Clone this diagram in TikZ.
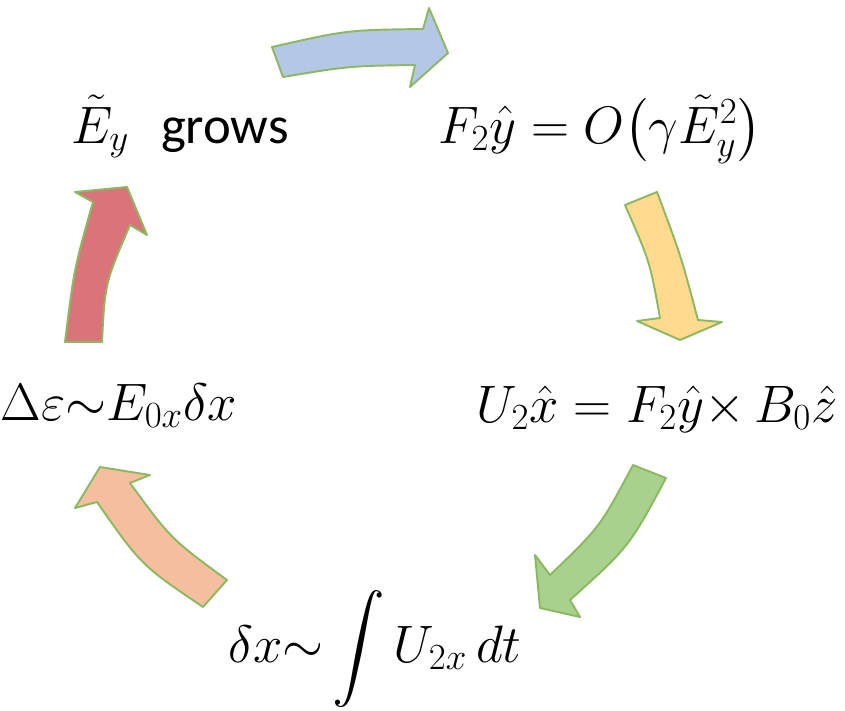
\documentclass[tikz,border=0pt]{standalone}
\usepackage{fix-cm}
\usepackage{amsmath}
\usepackage{amssymb}
\usepackage{fontspec}
\newfontfamily\growsfont{Carlito}
\usepackage{tikz}

\definecolor{rimgreen}{RGB}{140,184,96}
\definecolor{fillblue}{RGB}{180,199,231}
\definecolor{fillyellow}{RGB}{255,218,143}
\definecolor{fillgreen}{RGB}{169,209,142}
\definecolor{fillpeach}{RGB}{245,190,158}
\definecolor{fillred}{RGB}{218,116,122}

\tikzset{
    cyclearrow/.style={draw=rimgreen, line width=1.1pt, line join=round},
    eqlabel/.style={font={\fontsize{30}{36}\selectfont}, inner sep=0pt, anchor=base}
}

\begin{document}
\begin{tikzpicture}[x=0.02cm, y=-0.02cm]
\useasboundingbox (0,0) rectangle (845,710);

% Labels round the loop
\node[eqlabel] (grow) at (180,143) {$\tilde{E}_y$\ \ {\growsfont grows}};
\node[eqlabel] (force) at (600,143) {$F_2\hat{y}=O\bigl(\gamma\tilde{E}_y^2\bigr)$};
\node[eqlabel] (drift) at (657,422) {$U_2\hat{x}=F_2\hat{y}{\times}\,B_0\hat{z}$};
\node[eqlabel] (shift) at (375,662) {$\delta x{\sim}\displaystyle\int U_{2x}\,dt$};
\node[eqlabel] (energy) at (119,420) {$\Delta\varepsilon{\sim}E_{0x}\delta x$};

% Blue arrow
\filldraw[cyclearrow, fill=fillblue] (272,47) .. controls (347,30) .. (423,29)
    -- (429,8) -- (448,53) -- (410,87) -- (415,65)
    .. controls (349,66) .. (283,77) -- cycle;

% Yellow arrow
\filldraw[cyclearrow, fill=fillyellow] (657,192) -- (625,205)
    .. controls (650,262) .. (660,318) -- (637,321) -- (680,340)
    -- (722,322) -- (698,320) .. controls (681,256) .. (657,192) -- cycle;

% Green arrow
\filldraw[cyclearrow, fill=fillgreen] (633,465) .. controls (600,527) .. (550,575)
    -- (535,555) -- (540,608) -- (580,617) -- (570,600)
    .. controls (629,547) .. (666,478) -- cycle;

% Peach arrow
\filldraw[cyclearrow, fill=fillpeach] (227,580) .. controls (171,539) .. (130,483)
    -- (150,475) -- (100,467) -- (75,508) -- (97,502)
    .. controls (141,565) .. (203,607) -- cycle;

% Red arrow
\filldraw[cyclearrow, fill=fillred] (102,342) .. controls (105,283) .. (130,225)
    -- (147,235) -- (127,187) -- (75,192) -- (93,202)
    .. controls (74,269) .. (65,342) -- cycle;
\end{tikzpicture}
\end{document}
